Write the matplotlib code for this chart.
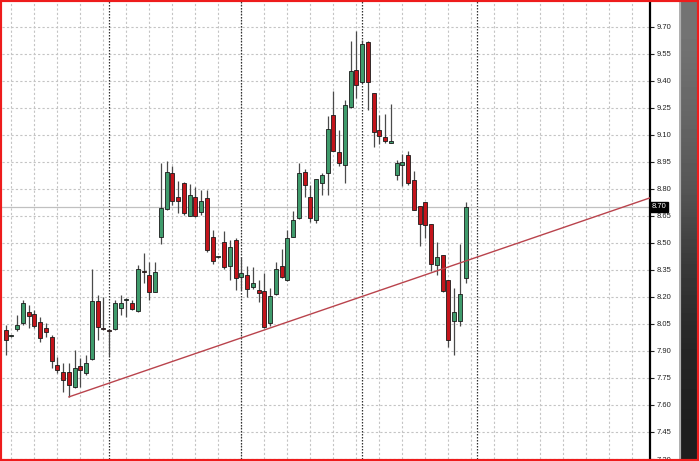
import numpy as np
import matplotlib
matplotlib.use("Agg")
import matplotlib.pyplot as plt
from matplotlib.patches import Rectangle

plt.rcParams['font.family'] = ['Liberation Sans', 'DejaVu Sans']

# candle data (oldest first)
opens = [8.017, 7.983, 8.022, 8.056, 8.117, 8.106, 8.061, 8.028, 7.978, 7.822,
         7.783, 7.783, 7.700, 7.817, 7.778, 7.856, 8.178, 8.028, 8.017, 8.022,
         8.139, 8.183, 8.167, 8.122, 8.342, 8.322, 8.228, 8.533, 8.689, 8.889,
         8.756, 8.833, 8.650, 8.756, 8.672, 8.750, 8.533, 8.422, 8.506, 8.372,
         8.517, 8.311, 8.322, 8.256, 8.239, 8.233, 8.056, 8.217, 8.372, 8.294,
         8.533, 8.639, 8.894, 8.756, 8.628, 8.833, 8.889, 9.211, 9.006, 8.933,
         9.256, 9.461, 9.394, 9.617, 9.333, 9.128, 9.089, 9.056, 8.878, 8.933,
         8.989, 8.850, 8.706, 8.728, 8.606, 8.378, 8.433, 8.294, 8.067, 8.067,
         8.306]
closes = [7.961, 7.983, 8.044, 8.167, 8.094, 8.039, 7.972, 8.006, 7.844, 7.794,
          7.739, 7.711, 7.806, 7.794, 7.833, 8.178, 8.033, 8.022, 8.011, 8.167,
          8.167, 8.189, 8.133, 8.356, 8.336, 8.228, 8.339, 8.694, 8.894, 8.733,
          8.733, 8.667, 8.767, 8.650, 8.733, 8.461, 8.400, 8.422, 8.367, 8.478,
          8.306, 8.333, 8.244, 8.278, 8.222, 8.033, 8.206, 8.356, 8.311, 8.528,
          8.628, 8.889, 8.822, 8.639, 8.856, 8.878, 9.133, 9.011, 8.944, 9.267,
          9.456, 9.378, 9.606, 9.394, 9.117, 9.094, 9.067, 9.067, 8.944, 8.950,
          8.833, 8.683, 8.606, 8.600, 8.383, 8.422, 8.233, 7.961, 8.117, 8.217,
          8.700]
highs = [8.044, 7.988, 8.100, 8.183, 8.156, 8.128, 8.089, 8.056, 7.989, 7.867,
         7.833, 7.833, 7.906, 7.861, 7.878, 8.356, 8.211, 8.200, 8.022, 8.183,
         8.211, 8.194, 8.183, 8.378, 8.444, 8.394, 8.394, 8.944, 8.956, 8.928,
         8.844, 8.839, 8.828, 8.811, 8.794, 8.794, 8.572, 8.425, 8.567, 8.517,
         8.528, 8.422, 8.372, 8.367, 8.294, 8.333, 8.250, 8.394, 8.467, 8.572,
         8.678, 8.944, 8.911, 8.822, 8.856, 8.889, 9.206, 9.344, 9.128, 9.294,
         9.622, 9.678, 9.630, 9.622, 9.333, 9.211, 9.217, 9.272, 8.961, 8.994,
         9.011, 8.900, 8.706, 8.728, 8.606, 8.506, 8.433, 8.294, 8.250, 8.494,
         8.728]
lows = [7.878, 7.978, 8.011, 8.044, 8.028, 8.028, 7.950, 7.978, 7.806, 7.778,
        7.672, 7.644, 7.694, 7.700, 7.767, 7.850, 7.961, 8.017, 7.872, 8.017,
        8.100, 8.089, 8.128, 8.117, 8.278, 8.183, 8.228, 8.494, 8.683, 8.711,
        8.667, 8.656, 8.650, 8.645, 8.656, 8.450, 8.383, 8.419, 8.356, 8.294,
        8.239, 8.239, 8.200, 8.244, 8.172, 8.028, 8.039, 8.211, 8.306, 8.289,
        8.533, 8.633, 8.756, 8.617, 8.611, 8.767, 8.767, 9.011, 8.928, 8.833,
        9.250, 9.306, 9.389, 9.239, 9.033, 9.050, 9.056, 9.056, 8.850, 8.817,
        8.822, 8.683, 8.483, 8.528, 8.344, 8.322, 8.228, 7.922, 7.878, 8.039,
        8.278]

price_ticks = [7.30, 7.45, 7.60, 7.75, 7.90, 8.05, 8.20, 8.35, 8.50, 8.65,
               8.80, 8.95, 9.10, 9.25, 9.40, 9.55, 9.70]
separators = [18, 41, 62, 82]       # period separator bars
trend_x = [11, 112]                 # trend line anchor bars
trend_y = [7.645, 8.75]
last_price = 8.70

GREEN = '#3f9b6c'
RED = '#c3141b'

fig = plt.figure(figsize=(6.99, 4.61), dpi=100)
fig.patch.set_facecolor('white')
ax = fig.add_axes([2 / 699, 2 / 461, 648 / 699, 458 / 461])

n = len(opens)
x = np.arange(n)
o = np.array(opens)
c = np.array(closes)
h = np.array(highs)
l = np.array(lows)

ax.set_xlim(-0.64, 112.05)
ax.set_ylim(7.30, 9.844)

# grid
for t in price_ticks:
    ax.axhline(t, color='#c4c4c4', lw=0.8, ls=(0, (2, 2)), zorder=0)
for gx in range(1, 112, 4):
    ax.axvline(gx, color='#c4c4c4', lw=0.8, ls=(0, (2, 2)), zorder=0)
for sx in separators:
    ax.axvline(sx, color='#333333', lw=0.9, ls=(0, (1.2, 1.2)), zorder=1)

ax.axhline(last_price, color='#c0c0c0', lw=0.9, zorder=1)

# candles
up = c >= o
ax.vlines(x, l, h, color='#4a4a4a', lw=0.9, zorder=2)
body = np.abs(c - o)
body = np.maximum(body, 0.004)
bottom = np.minimum(o, c)
colors = [GREEN if u else RED for u in up]
ax.bar(x, body, bottom=bottom, width=0.68, color=colors,
       edgecolor='#1a1a1a', linewidth=0.6, zorder=3)

# trend line
ax.plot(trend_x, trend_y, color='#b9434c', lw=1.0, zorder=4)

# right price scale
for s in ['left', 'top', 'bottom']:
    ax.spines[s].set_visible(False)
ax.spines['right'].set_color('black')
ax.spines['right'].set_linewidth(1.6)
ax.set_xticks([])
ax.yaxis.tick_right()
ax.set_yticks(price_ticks)
ax.set_yticklabels([f"{t:.2f}" for t in price_ticks])
ax.tick_params(axis='y', length=3, width=0.8, pad=1.5, labelsize=5.5,
               colors='#222222')

ax.text(1.003, last_price, f"{last_price:.2f}", transform=ax.get_yaxis_transform(),
        fontsize=5.5, color='white', ha='left', va='center', clip_on=False,
        bbox=dict(boxstyle='square,pad=0.2', fc='black', ec='black'), zorder=10)

# dark strip at the right edge
strip = fig.add_axes([679 / 699, 0, 18 / 699, 1])
grad = np.array([[0.45], [0.40], [0.33], [0.22], [0.15], [0.12]])
strip.imshow(grad, aspect='auto', cmap='gray', vmin=0, vmax=1,
             interpolation='bilinear')
strip.axvline(-0.5, color='#b0b0b0', lw=3)
strip.set_axis_off()

fig.patches.append(Rectangle((0, 0), 1, 1, transform=fig.transFigure,
                             fill=False, edgecolor='#ee1c1c', lw=3, zorder=20))

fig.savefig("out.png", dpi=100)
plt.close()
